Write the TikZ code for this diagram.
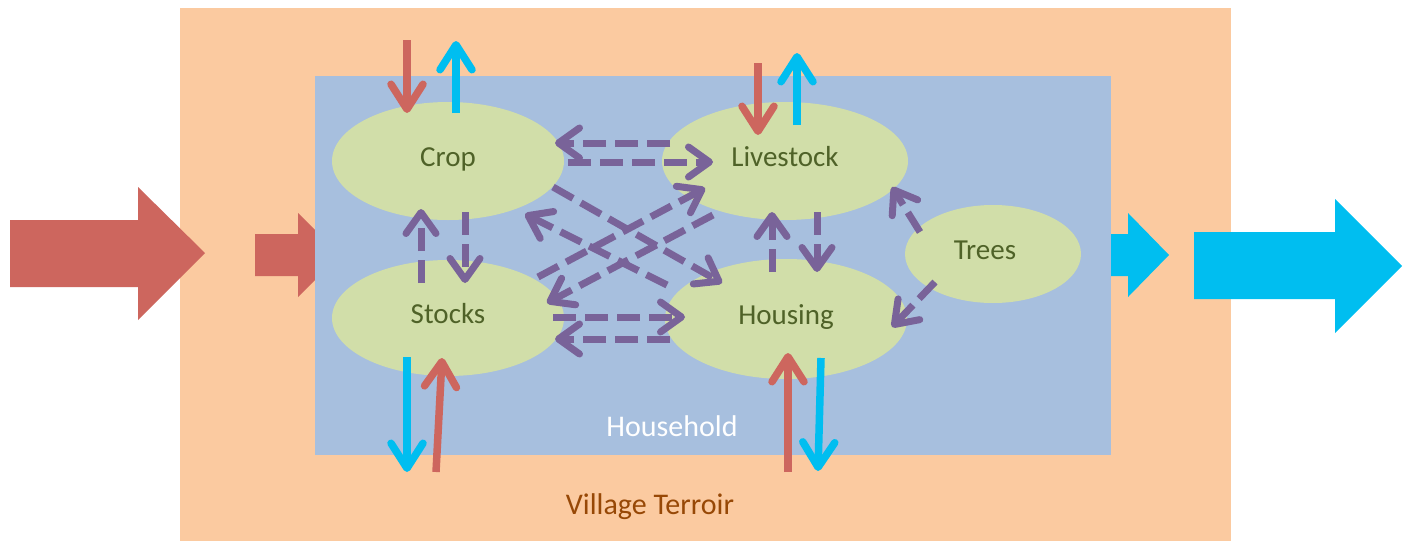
\documentclass[tikz,border=0pt]{standalone}
\usepackage{fontspec}
\setmainfont{Carlito}
\usetikzlibrary{arrows.meta,shapes.geometric}
\definecolor{terroir}{HTML}{FBCAA0}
\definecolor{house}{HTML}{A7BFDE}
\definecolor{blob}{HTML}{D1DEA9}
\definecolor{redc}{HTML}{CD665E}
\definecolor{cyanc}{HTML}{00BEF0}
\definecolor{purp}{HTML}{796399}
\definecolor{labc}{HTML}{4F6228}
\definecolor{vill}{HTML}{974806}
\begin{document}
\begin{tikzpicture}[x=1pt,y=-1pt,
  blobnode/.style={ellipse, fill=blob, inner sep=0pt, text=labc, font=\fontsize{29}{31}\selectfont, text height=19pt, text depth=8pt},
  barb/.style={-{Straight Barb[round,length=25pt,width=32pt]}},
  inflow/.style={draw=redc, line width=7.5pt, barb},
  outflow/.style={draw=cyanc, line width=7.5pt, barb},
  exch/.style={draw=purp, line width=7pt, dash pattern=on 23pt off 9pt, -{Straight Barb[round,length=21pt,width=30pt]}}]
\useasboundingbox (0,0) rectangle (1410,541);
% village terroir
\fill[terroir] (180,8) rectangle (1231,541);
% small block arrows partly under household
\fill[redc] (255,234) -- (298,234) -- (298,213) -- (340,255) -- (298,297) -- (298,276) -- (255,276) -- cycle;
\fill[cyanc] (1100,234) -- (1128,234) -- (1128,213) -- (1169,255) -- (1128,297) -- (1128,276) -- (1100,276) -- cycle;
% big block arrows
\fill[redc] (10,220) -- (138,220) -- (138,187) -- (205,253) -- (138,320) -- (138,287) -- (10,287) -- cycle;
\fill[cyanc] (1194,232) -- (1335,232) -- (1335,199) -- (1402,266) -- (1335,333) -- (1335,299) -- (1194,299) -- cycle;
% household
\fill[house] (315,76) rectangle (1111,455);
% components
\node[blobnode, minimum width=232pt, minimum height=118pt] (crop) at (448,161) {Crop};
\node[blobnode, minimum width=246pt, minimum height=118pt] (live) at (785,161) {Livestock};
\node[blobnode, minimum width=232pt, minimum height=116pt] (stock) at (448,318) {Stocks};
\node[blobnode, minimum width=242pt, minimum height=120pt] (hous) at (786,319) {Housing};
\node[blobnode, minimum width=176pt, minimum height=98pt] (trees) at (993,254) {\hspace*{-16pt}Trees};
\node[text=white, font=\fontsize{30}{32}\selectfont] (hh) at (672,426) {Household};
\node[text=vill, font=\fontsize{30}{32}\selectfont] (vt) at (650,507) {Village Terroir};
% external flow end points
\coordinate (cinA) at (407,40);   \coordinate (cinB) at (407,113);
\coordinate (coutA) at (456,113); \coordinate (coutB) at (456,41);
\coordinate (linA) at (758,63);   \coordinate (linB) at (758,135);
\coordinate (loutA) at (797,125); \coordinate (loutB) at (797,53);
\coordinate (soutA) at (407,357); \coordinate (soutB) at (407,472);
\coordinate (sinA) at (436,472);  \coordinate (sinB) at (442,358);
\coordinate (hinA) at (788,472);  \coordinate (hinB) at (788,353);
\coordinate (houtA) at (821,358); \coordinate (houtB) at (818,471);
\draw[inflow] (cinA) -- (cinB);
\draw[outflow] (coutA) -- (coutB);
\draw[inflow] (linA) -- (linB);
\draw[outflow] (loutA) -- (loutB);
\draw[outflow] (soutA) -- (soutB);
\draw[inflow] (sinA) -- (sinB);
\draw[inflow] (hinA) -- (hinB);
\draw[outflow] (houtA) -- (houtB);
% internal exchanges
\coordinate (lc1) at (670,143); \coordinate (lc2) at (555,143);
\coordinate (cl1) at (568,162); \coordinate (cl2) at (713,162);
\coordinate (sh1) at (553,317); \coordinate (sh2) at (685,317);
\coordinate (hs1) at (670,339); \coordinate (hs2) at (555,339);
\coordinate (ch1) at (553,187); \coordinate (ch2) at (722,283);
\coordinate (hc1) at (667,285); \coordinate (hc2) at (525,214);
\coordinate (sl1) at (538,277); \coordinate (sl2) at (705,188);
\coordinate (ls1) at (713,215); \coordinate (ls2) at (547,303);
\coordinate (sc1) at (421,283); \coordinate (sc2) at (421,209);
\coordinate (cs1) at (465,212); \coordinate (cs2) at (465,283);
\coordinate (hl1) at (772,272); \coordinate (hl2) at (772,212);
\coordinate (lh1) at (817,212); \coordinate (lh2) at (817,272);
\coordinate (tl1) at (920,232); \coordinate (tl2) at (892,187);
\coordinate (th1) at (935,282); \coordinate (th2) at (892,327);
\foreach \a in {lc,cl,sh,hs,ch,hc,sl,ls,sc,cs,hl,lh,tl,th}
  \draw[exch] (\a1) -- (\a2);
\end{tikzpicture}
\end{document}
